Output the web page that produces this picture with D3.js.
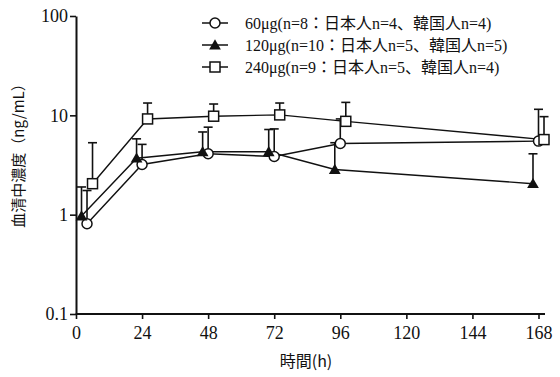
<!DOCTYPE html>
<html><head><meta charset="utf-8">
<script src="https://cdn.jsdelivr.net/npm/d3@7"></script>
<style>
html,body{margin:0;padding:0;background:#fff;}
svg text{fill:#111;}
</style>
</head><body>
<svg id="chart" width="560" height="377"></svg>
<script>
const times = [4, 24, 48, 72, 96, 168];
const xTicks = [0, 24, 48, 72, 96, 120, 144, 168];
const yTicks = [0.1, 1, 10, 100];
const yTickLabels = ["0.1", "1", "10", "100"];
const seriesNames = ["60μg(n=8：日本人n=4、韓国人n=4)", "120μg(n=10：日本人n=5、韓国人n=5)", "240μg(n=9：日本人n=5、韓国人n=4)"];
const seriesOffsets = [0, -2, 2];
const mean60 = [0.81, 3.2, 4.1, 3.85, 5.2, 5.5];
const upper60 = [1.75, 5.1, 7.6, 7.3, 9.2, 11.5];
const mean120 = [0.97, 3.7, 4.3, 4.3, 2.85, 2.05];
const upper120 = [1.9, 5.8, 6.8, 7.2, 5.3, 4.1];
const mean240 = [2.05, 9.2, 9.8, 10.1, 8.7, 5.7];
const upper240 = [5.3, 13.3, 13.0, 13.3, 13.5, 9.7];
const markers = ["circle", "triangle", "square"];
const xLabel = "時間(h)";
const yLabel = "血清中濃度（ng/mL）";

const svg = d3.select("#chart");
const x = d3.scaleLinear().domain([0, 168]).range([76, 538.5]);
const y = d3.scaleLog().domain([0.1, 100]).range([314, 16]);
const serif = "'Liberation Serif','Noto Sans CJK JP',serif";
const cjk = "'Noto Sans CJK JP','Liberation Serif',sans-serif";

const series = [
  {name: seriesNames[0], mean: mean60, up: upper60, off: seriesOffsets[0], m: markers[0]},
  {name: seriesNames[1], mean: mean120, up: upper120, off: seriesOffsets[1], m: markers[1]},
  {name: seriesNames[2], mean: mean240, up: upper240, off: seriesOffsets[2], m: markers[2]}
];

// axes
const xAxis = d3.axisBottom(x).tickValues(xTicks).tickSize(5).tickSizeOuter(0);
const gx = svg.append("g").attr("transform", "translate(0,314)").call(xAxis);
gx.select(".domain").attr("d", "M76,0H545").attr("stroke", "#111").attr("stroke-width", 2);
gx.selectAll(".tick line").attr("stroke", "#111").attr("stroke-width", 1.6).attr("y1", -1);
gx.selectAll(".tick text").attr("font-family", serif).attr("font-size", 18).attr("y", 10).attr("dy", "0.85em").attr("fill", "#111");

const yAxis = d3.axisLeft(y).tickValues(yTicks).tickFormat((d, i) => yTickLabels[i]).tickSize(6).tickSizeOuter(0);
const gy = svg.append("g").attr("transform", "translate(76,0)").call(yAxis);
gy.select(".domain").attr("stroke", "#111").attr("stroke-width", 2);
gy.selectAll(".tick line").attr("stroke", "#111").attr("stroke-width", 1.6);
gy.selectAll(".tick text").attr("font-family", serif).attr("font-size", 18).attr("fill", "#111").attr("x", -8);

// axis titles
svg.append("text").attr("x", 306).attr("y", 367).attr("text-anchor", "middle")
  .attr("font-family", cjk).attr("font-size", 16).attr("fill", "#111").text(xLabel);
svg.append("text").attr("transform", "translate(24,152) rotate(-90)").attr("text-anchor", "middle")
  .attr("font-family", cjk).attr("font-size", 15).attr("fill", "#111").text(yLabel);

const line = d3.line().x(d => x(d.t)).y(d => y(d.v));
const capW = 4.5;

function drawMarker(g, type, cx, cy) {
  if (type === "circle") {
    g.append("circle").attr("cx", cx).attr("cy", cy).attr("r", 5)
      .attr("fill", "#fff").attr("stroke", "#111").attr("stroke-width", 1.5);
  } else if (type === "square") {
    g.append("rect").attr("x", cx - 5).attr("y", cy - 5).attr("width", 10).attr("height", 10)
      .attr("fill", "#fff").attr("stroke", "#111").attr("stroke-width", 1.5);
  } else {
    g.append("path").attr("d", d3.symbol().type(d3.symbolTriangle).size(60)())
      .attr("transform", `translate(${cx},${cy + 1})`).attr("fill", "#111");
  }
}

series.forEach(s => {
  const pts = times.map((t, i) => ({t: t + s.off, v: s.mean[i], u: s.up[i]}));
  const g = svg.append("g");
  pts.forEach(p => {
    g.append("line").attr("x1", x(p.t)).attr("x2", x(p.t)).attr("y1", y(p.v)).attr("y2", y(p.u))
      .attr("stroke", "#111").attr("stroke-width", 1.6);
    g.append("line").attr("x1", x(p.t) - capW).attr("x2", x(p.t) + capW).attr("y1", y(p.u)).attr("y2", y(p.u))
      .attr("stroke", "#111").attr("stroke-width", 1.6);
  });
  s.pts = pts;
});
series.forEach(s => {
  svg.append("path").datum(s.pts).attr("d", line).attr("fill", "none")
    .attr("stroke", "#111").attr("stroke-width", 1.4);
});
series.forEach(s => {
  const g = svg.append("g");
  s.pts.forEach(p => drawMarker(g, s.m, x(p.t), y(p.v)));
});

// legend
const lg = svg.append("g");
series.forEach((s, i) => {
  const ly = 23 + i * 22;
  lg.append("line").attr("x1", 202).attr("x2", 228).attr("y1", ly).attr("y2", ly)
    .attr("stroke", "#111").attr("stroke-width", 1.5);
  drawMarker(lg, s.m, 215, ly);
  lg.append("text").attr("x", 245).attr("y", ly).attr("dy", "0.35em")
    .attr("font-family", serif).attr("font-size", 16).attr("fill", "#111").text(s.name);
});
</script>
</body></html>
